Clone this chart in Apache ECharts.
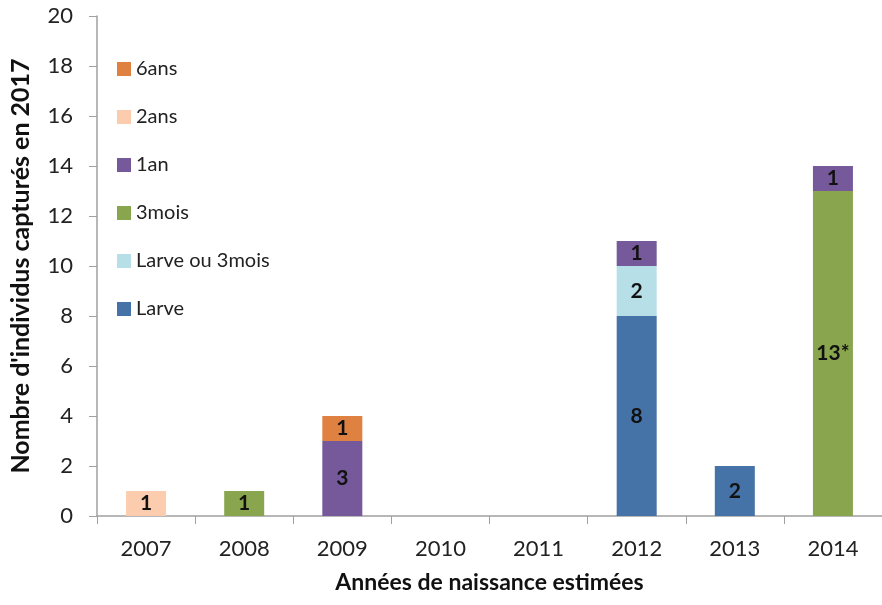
<!DOCTYPE html>
<html>
<head>
<meta charset="utf-8">
<script src="https://cdn.jsdelivr.net/npm/echarts@6/dist/echarts.min.js"></script>
<style>html,body{margin:0;padding:0;background:#fff}#c{width:882px;height:605px}</style>
</head>
<body>
<div id="c"></div>
<script>
const categories = ['2007','2008','2009','2010','2011','2012','2013','2014'];
const larve       = [null, null, null, null, null, 8, 2, null];
const larveOu3m   = [null, null, null, null, null, 2, null, null];
const troisMois   = [null, 1, null, null, null, null, null, 13];
const unAn        = [null, null, 3, null, null, 1, null, 1];
const deuxAns     = [1, null, null, null, null, null, null, null];
const sixAns      = [null, null, 1, null, null, null, null, null];
const troisMoisNotes = ['', '', '', '', '', '', '', '*'];
const yTicks = [0, 2, 4, 6, 8, 10, 12, 14, 16, 18, 20];

const FONT = 'Lato';
const seriesDefs = [
  {name: 'Larve', data: larve, color: '#4572A7'},
  {name: 'Larve ou 3mois', data: larveOu3m, color: '#B7DFE8'},
  {name: '3mois', data: troisMois, color: '#89A54E', notes: troisMoisNotes},
  {name: '1an', data: unAn, color: '#75599B'},
  {name: '2ans', data: deuxAns, color: '#FBCDAE'},
  {name: '6ans', data: sixAns, color: '#DF8140'}
];

const chart = echarts.init(document.getElementById('c'));
chart.setOption({
  animation: false,
  backgroundColor: '#fff',
  textStyle: {fontFamily: FONT},
  grid: {left: 97, right: -3, top: 16, bottom: 89, containLabel: false},
  legend: {
    orient: 'vertical', left: 112, top: 54, itemGap: 28,
    itemWidth: 14, itemHeight: 14, icon: 'rect',
    data: ['6ans', '2ans', '1an', '3mois', 'Larve ou 3mois', 'Larve'],
    textStyle: {fontSize: 20, color: '#222', fontFamily: FONT}
  },
  xAxis: {
    type: 'category', data: categories,
    name: 'Années de naissance estimées', nameLocation: 'middle', nameGap: 55,
    nameTextStyle: {fontSize: 23, fontWeight: 'bold', color: '#111', fontFamily: FONT},
    axisLine: {lineStyle: {color: '#a0a0a0', width: 1.5}},
    axisTick: {show: true, length: 8, lineStyle: {color: '#a0a0a0'}},
    axisLabel: {fontSize: 22, color: '#222', margin: 22}
  },
  yAxis: {
    type: 'value', min: yTicks[0], max: yTicks[yTicks.length - 1], interval: 2,
    name: "Nombre d'individus capturés en 2017", nameLocation: 'middle', nameGap: 64,
    nameTextStyle: {fontSize: 25, fontWeight: 'bold', color: '#111', fontFamily: FONT},
    splitLine: {show: false},
    axisLine: {show: true, lineStyle: {color: '#a0a0a0', width: 1.5}},
    axisTick: {show: true, length: 8, lineStyle: {color: '#a0a0a0'}},
    axisLabel: {fontSize: 22, color: '#222', margin: 24}
  },
  series: seriesDefs.map(s => ({
    name: s.name, type: 'bar', stack: 'total', barWidth: 40,
    data: s.data,
    itemStyle: {color: s.color},
    label: {
      show: true, position: 'inside', fontSize: 21, fontWeight: 'bold', color: '#111',
      fontFamily: FONT,
      formatter: p => (p.value == null ? '' : p.value + (s.notes ? s.notes[p.dataIndex] : ''))
    }
  }))
});
</script>
</body>
</html>
